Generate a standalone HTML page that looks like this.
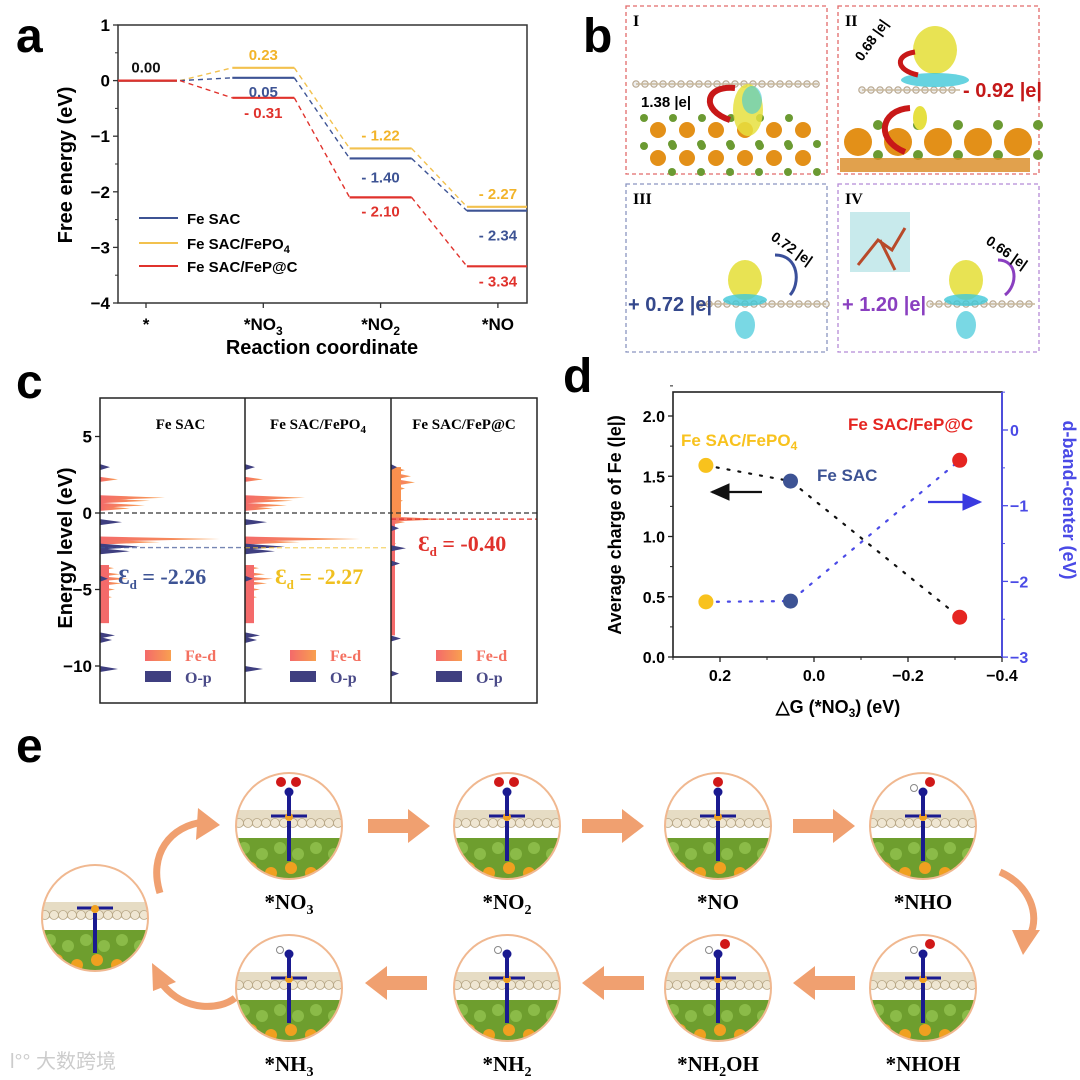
<!DOCTYPE html>
<html><head><meta charset="utf-8"><style>
body{margin:0;background:#fff}
svg{display:block;font-family:"Liberation Sans",Arial,sans-serif}
.serif{font-family:"Liberation Serif","Times New Roman",serif}
</style></head><body>
<svg id="fig" width="1080" height="1080" viewBox="0 0 1080 1080" xmlns="http://www.w3.org/2000/svg">
<defs>
<linearGradient id="fed" x1="0" x2="1"><stop offset="0" stop-color="#f46a6a"/><stop offset="1" stop-color="#f8a050"/></linearGradient>
<marker id="ahb" markerWidth="10" markerHeight="10" refX="8" refY="5" orient="auto"><path d="M0,1 L9,5 L0,9 Z" fill="#111"/></marker>
<marker id="ahu" markerWidth="10" markerHeight="10" refX="8" refY="5" orient="auto"><path d="M0,1 L9,5 L0,9 Z" fill="#3a3ae0"/></marker>
</defs>
<!-- panel letters -->
<text x="16" y="52" font-size="48" font-weight="bold">a</text>
<text x="583" y="52" font-size="48" font-weight="bold">b</text>
<text x="16" y="398" font-size="48" font-weight="bold">c</text>
<text x="563" y="392" font-size="48" font-weight="bold">d</text>
<text x="16" y="762" font-size="48" font-weight="bold">e</text>

<g id="pa"></g>
<g id="pb"></g>
<g id="pc"></g>
<g id="pd"></g>
<g id="pe"></g>

<text x="10" y="1068" font-size="20" fill="#ccc" font-family="'Liberation Sans','Noto Sans CJK SC',sans-serif">l°° 大数跨境</text>
</svg>
<script>
// ---------- Panel a data ----------
const catsA = ['*', '*NO3', '*NO2', '*NO'];
const feSAC = [0.00, 0.05, -1.40, -2.34];
const fePO4 = [0.00, 0.23, -1.22, -2.27];
const feFeP = [0.00, -0.31, -2.10, -3.34];
const ticksA = [1, 0, -1, -2, -3, -4];
// ---------- Panel c data (energy, intensity) ----------
const dosE1d = [2.2, 1.0, 0.8, 0.5, 0.3, -1.7, -1.9, -3.6, -4.0, -4.3, -4.6, -5.0, -5.5, -6.0, -6.6, -7.0];
const dosI1d = [18, 65, 50, 45, 30, 120, 60, 14, 20, 28, 22, 15, 12, 9, 6, 4];
const dosE1p = [3.0, -0.6, -2.2, -2.5, -4.3, -8.0, -8.3, -10.2];
const dosI1p = [10, 22, 40, 30, 8, 15, 12, 18];
const dosE2d = [2.2, 1.0, 0.8, 0.5, 0.3, -1.7, -1.9, -3.6, -4.0, -4.3, -4.6, -5.0, -5.5, -6.0, -6.6, -7.0];
const dosI2d = [18, 60, 48, 42, 28, 115, 55, 14, 20, 28, 22, 15, 12, 9, 6, 4];
const dosE2p = [3.0, -0.6, -2.2, -2.5, -4.3, -8.0, -8.3, -10.2];
const dosI2p = [10, 22, 40, 30, 8, 15, 12, 18];
const dosE3d = [2.8, 2.4, 2.0, 1.6, 1.2, 0.8, 0.4, 0.0, -0.4, -0.6, -1.0, -2.0, -3.0, -4.0, -5.0, -6.0];
const dosI3d = [14, 20, 24, 14, 10, 12, 8, 9, 55, 14, 6, 5, 4, 4, 3, 3];
const dosE3p = [3.0, -1.0, -2.3, -3.3, -8.2, -10.5];
const dosI3p = [6, 8, 15, 9, 10, 8];
const dCenter = [-2.26, -2.27, -0.40];
const cTicks = [5, 0, -5, -10];
// ---------- Panel d data ----------
const dNames = ['Fe SAC/FePO4', 'Fe SAC', 'Fe SAC/FeP@C'];
const dG = [0.23, 0.05, -0.31];
const charge = [1.59, 1.46, 0.33];
const dband = [-2.27, -2.26, -0.40];
const dXTicks = [0.2, 0.0, -0.2, -0.4];
const dLTicks = [0.0, 0.5, 1.0, 1.5, 2.0];
const dRTicks = [0, -1, -2, -3];

const NS = 'http://www.w3.org/2000/svg';
function mk(parent, tag, attrs, text) {
  const e = document.createElementNS(NS, tag);
  for (const k in attrs) e.setAttribute(k, attrs[k]);
  if (text !== undefined) e.textContent = text;
  parent.appendChild(e);
  return e;
}

// ================= PANEL A =================
(function () {
  const g = document.getElementById('pa');
  const L = 118, R = 527, T = 25, B = 303;
  const yA = v => 80.6 - 55.6 * v;
  const xA = i => 146 + 117.3 * i;
  const frame = mk(g, 'rect', {x: L, y: T, width: R - L, height: B - T, fill: 'none', stroke: '#333', 'stroke-width': 1.5});
  
  
  ticksA.forEach(t => {
    mk(g, 'line', {x1: L - 5, x2: L, y1: yA(t), y2: yA(t), stroke: '#333', 'stroke-width': 1.3});
    const tx = mk(g, 'text', {x: L - 8, y: yA(t) + 6, 'text-anchor': 'end', 'font-size': 17, 'font-weight': 'bold'}, t === 0 ? '0' : (t < 0 ? '\u2212' + (-t) : t));
    
    
    if (t > -4) mk(g, 'line', {x1: L - 3, x2: L, y1: yA(t - 0.5), y2: yA(t - 0.5), stroke: '#333'});
  });
  catsA.forEach((c, i) => {
    mk(g, 'line', {x1: xA(i), x2: xA(i), y1: B, y2: B + 5, stroke: '#333', 'stroke-width': 1.3});
    const tx = mk(g, 'text', {x: xA(i), y: 330, 'text-anchor': 'middle', 'font-size': 17, 'font-weight': 'bold'});
    
    
    if (c.length > 3 && /\d$/.test(c)) {
      tx.textContent = c.slice(0, -1);
      mk(tx, 'tspan', {'font-size': 12, dy: 5}, c.slice(-1));
    } else tx.textContent = c;
  });
  const yt = mk(g, 'text', {x: 0, y: 0, transform: 'translate(72,165) rotate(-90)', 'text-anchor': 'middle', 'font-size': 20, 'font-weight': 'bold'}, 'Free energy (eV)');
  
  
  const xt = mk(g, 'text', {x: 322, y: 354, 'text-anchor': 'middle', 'font-size': 20, 'font-weight': 'bold'}, 'Reaction coordinate');
  
  

  const series = [
    {vals: fePO4, col: '#f2c14e', name: 'fepo4'},
    {vals: feSAC, col: '#3d5394', name: 'fe-sac'},
    {vals: feFeP, col: '#e0322c', name: 'fep'}
  ];
  const hw = 31;
  series.forEach(s => {
    s.vals.forEach((v, i) => {
      const x1 = i === 0 ? L : xA(i) - hw, x2 = i === 3 ? R : xA(i) + hw;
      const ln = mk(g, 'line', {x1, x2, y1: yA(v), y2: yA(v), stroke: s.col, 'stroke-width': 2.2});
      
      
      if (i < 3) {
        const dl = mk(g, 'line', {x1: (i === 0 ? xA(0) + 34 : xA(i) + hw), y1: yA(v), x2: xA(i + 1) - hw, y2: yA(s.vals[i + 1]), stroke: s.col, 'stroke-width': 1.4, 'stroke-dasharray': '5,4'});
        
        
      }
    });
  });
  // value labels
  const fmt = v => v === 0 ? '0.00' : (v < 0 ? '- ' + (-v).toFixed(2) : v.toFixed(2));
  const lab = (i, v, col, dy) => {
    const t = mk(g, 'text', {x: xA(i), y: yA(v) + dy, 'text-anchor': 'middle', 'font-size': 15, 'font-weight': 'bold', fill: col}, fmt(v));
    
    
  };
  lab(0, feSAC[0], '#111', -8);
  lab(1, fePO4[1], '#f2b42a', -8); lab(1, feSAC[1], '#3d5394', 19); lab(1, feFeP[1], '#e0322c', 20);
  lab(2, fePO4[2], '#f2b42a', -8); lab(2, feSAC[2], '#3d5394', 24); lab(2, feFeP[2], '#e0322c', 19);
  lab(3, fePO4[3], '#f2b42a', -8); lab(3, feSAC[3], '#3d5394', 30); lab(3, feFeP[3], '#e0322c', 20);
  // legend
  const leg = [['Fe SAC', '#3d5394', 218], ['Fe SAC/FePO', '#f2c14e', 243], ['Fe SAC/FeP@C', '#e0322c', 266]];
  leg.forEach((l, i) => {
    const lg = mk(g, 'g', {});
    
    
    mk(lg, 'line', {x1: 139, x2: 178, y1: l[2], y2: l[2], stroke: l[1], 'stroke-width': 2});
    const t = mk(lg, 'text', {x: 187, y: l[2] + 6, 'font-size': 15, 'font-weight': 'bold'}, l[0]);
    if (i === 1) mk(t, 'tspan', {'font-size': 11, dy: 4}, '4');
  });
})();

// ================= PANEL B =================
(function () {
  const g = document.getElementById('pb');
  const boxes = [
    [626, 6, 201, 168, '#e26a6a', 'I'], [838, 6, 201, 168, '#e26a6a', 'II'],
    [626, 184, 201, 168, '#8a95c0', 'III'], [838, 184, 201, 168, '#b58ad6', 'IV']];
  boxes.forEach(b => {
    const r = mk(g, 'rect', {x: b[0], y: b[1], width: b[2], height: b[3], fill: 'none', stroke: b[4], 'stroke-width': 1.3, 'stroke-dasharray': '4,3'});
    
    
    mk(g, 'text', {x: b[0] + 7, y: b[1] + 20, 'font-size': 16, 'font-weight': 'bold', class: 'serif'}, b[5]);
  });
  const chain = (x0, x1, y) => { for (let x = x0; x <= x1; x += 9) mk(g, 'circle', {cx: x, cy: y, r: 3.2, fill: '#eee', stroke: '#b9a890', 'stroke-width': 1.2}); mk(g, 'line', {x1: x0, x2: x1, y1: y, y2: y, stroke: '#c8b89c', 'stroke-width': 1.5}); };
  // I
  for (let r = 0; r < 2; r++) for (let k = 0; k < 6; k++) {
    mk(g, 'circle', {cx: 658 + k * 29, cy: 130 + r * 28, r: 8, fill: '#e39018'});
    mk(g, 'circle', {cx: 644 + k * 29, cy: 118 + r * 28, r: 4, fill: '#6b9a32'});
    mk(g, 'circle', {cx: 672 + k * 29, cy: 144 + r * 28, r: 4, fill: '#6b9a32'});
  }
  chain(636, 818, 84);
  mk(g, 'ellipse', {cx: 748, cy: 110, rx: 15, ry: 26, fill: '#e6e040', opacity: 0.85});
  mk(g, 'ellipse', {cx: 752, cy: 100, rx: 10, ry: 14, fill: '#40c8d8', opacity: 0.6});
  mk(g, 'path', {d: 'M730,120 C700,110 705,85 735,88', fill: 'none', stroke: '#c81818', 'stroke-width': 6});
  mk(g, 'text', {x: 641, y: 107, 'font-size': 15, 'font-weight': 'bold'}, '1.38 |e|');
  // II
  for (let k = 0; k < 5; k++) { mk(g, 'circle', {cx: 858 + k * 40, cy: 142, r: 14, fill: '#e39018'}); mk(g, 'circle', {cx: 878 + k * 40, cy: 125, r: 5, fill: '#6b9a32'}); mk(g, 'circle', {cx: 878 + k * 40, cy: 155, r: 5, fill: '#6b9a32'}); }
  mk(g, 'rect', {x: 840, y: 158, width: 190, height: 14, fill: '#d98a20', opacity: 0.8});
  chain(862, 960, 90);
  mk(g, 'ellipse', {cx: 935, cy: 50, rx: 22, ry: 24, fill: '#e6e040', opacity: 0.9});
  mk(g, 'ellipse', {cx: 935, cy: 80, rx: 34, ry: 7, fill: '#40c8d8', opacity: 0.8});
  mk(g, 'ellipse', {cx: 920, cy: 118, rx: 7, ry: 12, fill: '#e6e040'});
  mk(g, 'path', {d: 'M918,75 C895,70 895,55 915,52', fill: 'none', stroke: '#c81818', 'stroke-width': 5});
  mk(g, 'path', {d: 'M905,152 C875,140 880,110 910,108', fill: 'none', stroke: '#c81818', 'stroke-width': 6});
  mk(g, 'text', {x: 0, y: 0, transform: 'translate(862,62) rotate(-55)', 'font-size': 14, 'font-weight': 'bold'}, '0.68 |e|');
  mk(g, 'text', {x: 963, y: 97, 'font-size': 20, 'font-weight': 'bold', fill: '#c41818'}, '- 0.92 |e|');
  // III
  chain(700, 826, 304);
  mk(g, 'ellipse', {cx: 745, cy: 280, rx: 17, ry: 20, fill: '#e6e040', opacity: 0.9});
  mk(g, 'ellipse', {cx: 745, cy: 300, rx: 22, ry: 6, fill: '#40c8d8', opacity: 0.8});
  mk(g, 'ellipse', {cx: 745, cy: 325, rx: 10, ry: 14, fill: '#40c8d8', opacity: 0.7});
  mk(g, 'path', {d: 'M775,255 C800,255 800,285 790,295', fill: 'none', stroke: '#3a4f9a', 'stroke-width': 3});
  mk(g, 'text', {x: 0, y: 0, transform: 'translate(770,239) rotate(35)', 'font-size': 14, 'font-weight': 'bold'}, '0.72 |e|');
  mk(g, 'text', {x: 628, y: 311, 'font-size': 20, 'font-weight': 'bold', fill: '#34488c'}, '+ 0.72 |e|');
  // IV
  chain(930, 1035, 304);
  mk(g, 'rect', {x: 850, y: 212, width: 60, height: 60, fill: '#62c4c8', opacity: 0.35});
  mk(g, 'path', {d: 'M858,265 L878,240 L892,250 L905,228 M880,240 L895,270', stroke: '#b84a2a', 'stroke-width': 3, fill: 'none'});
  mk(g, 'ellipse', {cx: 966, cy: 280, rx: 17, ry: 20, fill: '#e6e040', opacity: 0.9});
  mk(g, 'ellipse', {cx: 966, cy: 300, rx: 22, ry: 6, fill: '#40c8d8', opacity: 0.8});
  mk(g, 'ellipse', {cx: 966, cy: 325, rx: 10, ry: 14, fill: '#40c8d8', opacity: 0.7});
  mk(g, 'path', {d: 'M998,260 C1018,260 1018,285 1005,295', fill: 'none', stroke: '#8a3fc0', 'stroke-width': 3});
  mk(g, 'text', {x: 0, y: 0, transform: 'translate(985,243) rotate(35)', 'font-size': 14, 'font-weight': 'bold'}, '0.66 |e|');
  mk(g, 'text', {x: 842, y: 311, 'font-size': 20, 'font-weight': 'bold', fill: '#8a3fc0'}, '+ 1.20 |e|');
})();

// ================= PANEL C =================
(function () {
  const g = document.getElementById('pc');
  const T = 398, B = 703;
  const yC = e => 513 - 15.3 * e;
  const subs = [[100, 245, 'Fe SAC'], [245, 391, 'Fe SAC/FePO'], [391, 537, 'Fe SAC/FeP@C']];
  const dd = [[dosE1d, dosI1d, dosE1p, dosI1p], [dosE2d, dosI2d, dosE2p, dosI2p], [dosE3d, dosI3d, dosE3p, dosI3p]];
  const dcol = ['#3d5394', '#f2c230', '#e0322c'];
  subs.forEach((s, k) => {
    const x0 = s[0];
    // Fe-d
    dd[k][0].forEach((e, i) => {
      const w = k === 2 && i < 8 ? 4 : 2.5;
      const p = mk(g, 'path', {d: `M${x0},${yC(e) - w} L${x0 + dd[k][1][i]},${yC(e)} L${x0},${yC(e) + w} Z`, fill: 'url(#fed)'});
      
      
    });
    if (k < 2) mk(g, 'rect', {x: x0, y: yC(-3.4), width: 9, height: yC(-7.2) - yC(-3.4), fill: '#f46a6a'});
    else mk(g, 'rect', {x: x0, y: yC(3), width: 10, height: yC(-0.3) - yC(3), fill: '#f8904e'}), mk(g, 'rect', {x: x0, y: yC(-0.5), width: 4, height: yC(-8) - yC(-0.5), fill: '#f46a6a'});
    dd[k][2].forEach((e, i) => {
      const p = mk(g, 'path', {d: `M${x0},${yC(e) - 3} L${x0 + dd[k][3][i]},${yC(e)} L${x0},${yC(e) + 3} Z`, fill: '#3f3f80'});
      
      
    });
    // d-center dashed line
    const dl = mk(g, 'line', {x1: x0, x2: k === 2 ? 537 : s[1] + (k === 0 ? 2 : -2), y1: yC(dCenter[k]), y2: yC(dCenter[k]), stroke: dcol[k], 'stroke-width': 1.3, 'stroke-dasharray': '5,3', opacity: k === 2 ? 1 : 0.7});
    
    
    // titles
    const t = mk(g, 'text', {x: (s[0] + s[1]) / 2 + (k === 0 ? 8 : 0), y: 429, 'text-anchor': 'middle', 'font-size': 15, 'font-weight': 'bold', class: 'serif'}, s[2]);
    if (k === 1) mk(t, 'tspan', {'font-size': 11, dy: 4}, '4');
    
    
    // epsilon label
    const ex = [118, 275, 418][k], ey = [584, 584, 551][k];
    const et = mk(g, 'text', {x: ex, y: ey, 'font-size': 22, 'font-weight': 'bold', fill: dcol[k] === '#f2c230' ? '#f0c020' : dcol[k], class: 'serif'}, '\u0190');
    mk(et, 'tspan', {'font-size': 13, dy: 5}, 'd');
    mk(et, 'tspan', {dy: -5}, ' = ' + dCenter[k].toFixed(2));
    
    
    // legend
    const lx = x0 + 45;
    mk(g, 'rect', {x: lx, y: 650, width: 26, height: 11, fill: 'url(#fed)'});
    mk(g, 'rect', {x: lx, y: 671, width: 26, height: 11, fill: '#3f3f80'});
    mk(g, 'text', {x: lx + 40, y: 661, 'font-size': 16, 'font-weight': 'bold', fill: '#f47060', class: 'serif'}, 'Fe-d');
    mk(g, 'text', {x: lx + 40, y: 683, 'font-size': 16, 'font-weight': 'bold', fill: '#4a4a88', class: 'serif'}, 'O-p');
  });
  mk(g, 'line', {x1: 100, x2: 537, y1: yC(0), y2: yC(0), stroke: '#333', 'stroke-width': 1.3, 'stroke-dasharray': '5,3'});
  const fr = mk(g, 'rect', {x: 100, y: T, width: 437, height: B - T, fill: 'none', stroke: '#222', 'stroke-width': 1.5});
  
  
  mk(g, 'line', {x1: 245, x2: 245, y1: T, y2: B, stroke: '#222', 'stroke-width': 1.5});
  mk(g, 'line', {x1: 391, x2: 391, y1: T, y2: B, stroke: '#222', 'stroke-width': 1.5});
  cTicks.forEach(t => {
    mk(g, 'line', {x1: 95, x2: 100, y1: yC(t), y2: yC(t), stroke: '#222', 'stroke-width': 1.3});
    const tx = mk(g, 'text', {x: 92, y: yC(t) + 6, 'text-anchor': 'end', 'font-size': 17, 'font-weight': 'bold'}, t < 0 ? '\u2212' + (-t) : String(t));
    
    
  });
  const yt = mk(g, 'text', {x: 0, y: 0, transform: 'translate(72,548) rotate(-90)', 'text-anchor': 'middle', 'font-size': 20, 'font-weight': 'bold'}, 'Energy level (eV)');
  
  
})();

// ================= PANEL D =================
(function () {
  const g = document.getElementById('pd');
  const L = 673, R = 1002, T = 392, B = 657;
  const xD = v => 673 + (0.3 - v) * 470;
  const yL = v => 657 - 120.5 * v;
  const yR = v => 430 - 75.7 * v;
  const fr = mk(g, 'rect', {x: L, y: T, width: R - L, height: B - T, fill: 'none', stroke: '#222', 'stroke-width': 1.6});
  
  
  mk(g, 'line', {x1: R, x2: R, y1: T, y2: B, stroke: '#4a4ae6', 'stroke-width': 1.8});
  dXTicks.forEach(t => {
    mk(g, 'line', {x1: xD(t), x2: xD(t), y1: B, y2: B + 5, stroke: '#222', 'stroke-width': 1.3});
    mk(g, 'line', {x1: xD(t + 0.1), x2: xD(t + 0.1), y1: B, y2: B + 3, stroke: '#222'});
    const tx = mk(g, 'text', {x: xD(t), y: B + 24, 'text-anchor': 'middle', 'font-size': 16, 'font-weight': 'bold'}, t < 0 ? '\u2212' + (-t).toFixed(1) : t.toFixed(1));
    
    
  });
  dLTicks.forEach(t => {
    mk(g, 'line', {x1: L - 5, x2: L, y1: yL(t), y2: yL(t), stroke: '#222', 'stroke-width': 1.3});
    mk(g, 'line', {x1: L - 3, x2: L, y1: yL(t + 0.25), y2: yL(t + 0.25), stroke: '#222'});
    const tx = mk(g, 'text', {x: L - 8, y: yL(t) + 6, 'text-anchor': 'end', 'font-size': 16, 'font-weight': 'bold'}, t.toFixed(1));
    
    
  });
  dRTicks.forEach(t => {
    mk(g, 'line', {x1: R, x2: R + 6, y1: yR(t), y2: yR(t), stroke: '#4a4ae6', 'stroke-width': 1.3});
    mk(g, 'line', {x1: R, x2: R + 3, y1: yR(t + 0.5), y2: yR(t + 0.5), stroke: '#4a4ae6'});
    const tx = mk(g, 'text', {x: R + 8, y: yR(t) + 6, 'font-size': 16, 'font-weight': 'bold', fill: '#4a4ae6'}, t < 0 ? '\u2212' + (-t) : '0');
    
    
  });
  const cpts = dG.map((v, i) => xD(v) + ',' + yL(charge[i])).join(' ');
  const bpts = dG.map((v, i) => xD(v) + ',' + yR(dband[i])).join(' ');
  const l1 = mk(g, 'polyline', {points: cpts, fill: 'none', stroke: '#111', 'stroke-width': 2.2, 'stroke-dasharray': '2,9', 'stroke-linecap': 'round'});
  
  
  const l2 = mk(g, 'polyline', {points: bpts, fill: 'none', stroke: '#4a4ae6', 'stroke-width': 2.2, 'stroke-dasharray': '2,9', 'stroke-linecap': 'round'});
  
  
  const cols = ['#f8c21d', '#3d5394', '#e52521'];
  dG.forEach((v, i) => {
    const c1 = mk(g, 'circle', {cx: xD(v), cy: yL(charge[i]), r: 7.5, fill: cols[i]});
    
    
    const c2 = mk(g, 'circle', {cx: xD(v), cy: yR(dband[i]), r: 7.5, fill: cols[i]});
    
    
  });
  mk(g, 'line', {x1: 762, y1: 492, x2: 712, y2: 492, stroke: '#111', 'stroke-width': 2.2, 'marker-end': 'url(#ahb)'});
  mk(g, 'line', {x1: 928, y1: 502, x2: 980, y2: 502, stroke: '#3a3ae0', 'stroke-width': 2.2, 'marker-end': 'url(#ahu)'});
  const t1 = mk(g, 'text', {x: 681, y: 446, 'font-size': 17, 'font-weight': 'bold', fill: '#f8c21d'}, 'Fe SAC/FePO');
  mk(t1, 'tspan', {'font-size': 12, dy: 4}, '4');
  
  
  const t2 = mk(g, 'text', {x: 817, y: 481, 'font-size': 17, 'font-weight': 'bold', fill: '#3d5394'}, 'Fe SAC');
  
  
  const t3 = mk(g, 'text', {x: 848, y: 430, 'font-size': 17, 'font-weight': 'bold', fill: '#e52521'}, 'Fe SAC/FeP@C');
  
  
  const yt = mk(g, 'text', {x: 0, y: 0, transform: 'translate(621,525) rotate(-90)', 'text-anchor': 'middle', 'font-size': 18, 'font-weight': 'bold'}, 'Average charge of Fe (|e|)');
  
  
  const yr = mk(g, 'text', {x: 0, y: 0, transform: 'translate(1063,500) rotate(90)', 'text-anchor': 'middle', 'font-size': 18, 'font-weight': 'bold', fill: '#4a4ae6'}, 'd-band-center (eV)');
  
  
  const xt = mk(g, 'text', {x: 838, y: 713, 'text-anchor': 'middle', 'font-size': 18, 'font-weight': 'bold'}, '\u25b3G (*NO');
  mk(xt, 'tspan', {'font-size': 12, dy: 4}, '3');
  mk(xt, 'tspan', {dy: -4}, ') (eV)');
  
  
})();

// ================= PANEL E =================
(function () {
  const g = document.getElementById('pe');
  const circ = [[95, 918, ''], [289, 826, 'NO|3'], [507, 826, 'NO|2'], [718, 826, 'NO'], [923, 826, 'NHO'],
    [289, 988, 'NH|3'], [507, 988, 'NH|2'], [718, 988, 'NH|2|OH'], [923, 988, 'NHOH']];
  circ.forEach((c, idx) => {
    const [cx, cy] = c;
    const r = 53;
    const cg = mk(g, 'g', {});
    
    
    const id = 'clip' + idx;
    const cp = mk(cg, 'clipPath', {id});
    mk(cp, 'circle', {cx, cy, r});
    const inner = mk(cg, 'g', {'clip-path': `url(#${id})`});
    mk(inner, 'rect', {x: cx - r, y: cy - r, width: 2 * r, height: 2 * r, fill: '#fff'});
    mk(inner, 'rect', {x: cx - r, y: cy + 12, width: 2 * r, height: r, fill: '#6e9e2e'});
    for (let k = 0; k < 6; k++) mk(inner, 'circle', {cx: cx - 45 + k * 18, cy: cy + 22 + (k % 2) * 6, r: 6, fill: '#8bbb48'});
    for (let k = 0; k < 5; k++) mk(inner, 'circle', {cx: cx - 38 + k * 20, cy: cy + 42 + (k % 2) * 5, r: 6, fill: '#f0a020'});
    mk(inner, 'rect', {x: cx - r, y: cy - 16, width: 2 * r, height: 16, fill: '#e6dcc4'});
    for (let k = 0; k < 12; k++) mk(inner, 'circle', {cx: cx - 50 + k * 9, cy: cy - 3, r: 4.5, fill: '#efe6d2', stroke: '#b8a888', 'stroke-width': 0.8});
    mk(inner, 'line', {x1: cx, y1: cy - 5, x2: cx, y2: cy + 35, stroke: '#1a1a90', 'stroke-width': 4});
    mk(inner, 'line', {x1: cx - 18, y1: cy - 10, x2: cx + 18, y2: cy - 10, stroke: '#1a1a90', 'stroke-width': 3});
    mk(inner, 'circle', {cx, cy: cy - 9, r: 4, fill: '#f0a020'});
    if (idx > 0) {
      mk(inner, 'line', {x1: cx, y1: cy - 10, x2: cx, y2: cy - 34, stroke: '#1a1a90', 'stroke-width': 4});
      mk(inner, 'circle', {cx, cy: cy - 34, r: 4.5, fill: '#1a1a90'});
      if (/O/.test(c[2])) mk(inner, 'circle', {cx: cx + (c[2] === 'NO' ? 0 : 7), cy: cy - 44, r: 5, fill: '#d01818'});
      if (/NO\|/.test(c[2])) mk(inner, 'circle', {cx: cx - 8, cy: cy - 44, r: 5, fill: '#d01818'});
      if (/H/.test(c[2])) mk(inner, 'circle', {cx: cx - 9, cy: cy - 38, r: 3.5, fill: '#fff', stroke: '#888'});
    }
    mk(cg, 'circle', {cx, cy, r, fill: 'none', stroke: '#f0b890', 'stroke-width': 2});
    if (c[2]) {
      const parts = c[2].split('|');
      const t = mk(g, 'text', {x: cx, y: cy + 83, 'text-anchor': 'middle', 'font-size': 21, 'font-weight': 'bold', class: 'serif'}, '*' + parts[0]);
      
      
      if (parts[1]) mk(t, 'tspan', {'font-size': 14, dy: 5}, parts[1]);
      if (parts[2]) mk(t, 'tspan', {dy: -5}, parts[2]);
    }
  });
  const arrowR = (x, y) => mk(g, 'path', {d: `M${x},${y - 7} h40 v-10 l22,17 l-22,17 v-10 h-40 Z`, fill: '#f0a070'});
  const arrowL = (x, y) => mk(g, 'path', {d: `M${x + 62},${y - 7} h-40 v-10 l-22,17 l22,17 v-10 h40 Z`, fill: '#f0a070'});
  [[368, 826], [582, 826], [793, 826]].forEach(p => { const a = arrowR(p[0], p[1]);   });
  [[365, 983], [582, 983], [793, 983]].forEach(p => { const a = arrowL(p[0], p[1]);   });
  const c1 = mk(g, 'path', {d: 'M160,893 C148,855 170,825 205,822', fill: 'none', stroke: '#f0a070', 'stroke-width': 7});
  
  
  mk(g, 'path', {d: 'M198,808 L220,825 L196,840 Z', fill: '#f0a070'});
  const c2 = mk(g, 'path', {d: 'M235,998 C220,1010 185,1012 163,985', fill: 'none', stroke: '#f0a070', 'stroke-width': 7});
  
  
  mk(g, 'path', {d: 'M152,963 L153,991 L176,982 Z', fill: '#f0a070'});
  const c3 = mk(g, 'path', {d: 'M1000,872 C1030,885 1040,915 1030,935', fill: 'none', stroke: '#f0a070', 'stroke-width': 7});
  
  
  mk(g, 'path', {d: 'M1040,930 L1023,955 L1012,930 Z', fill: '#f0a070'});
})();
</script>
</body></html>
